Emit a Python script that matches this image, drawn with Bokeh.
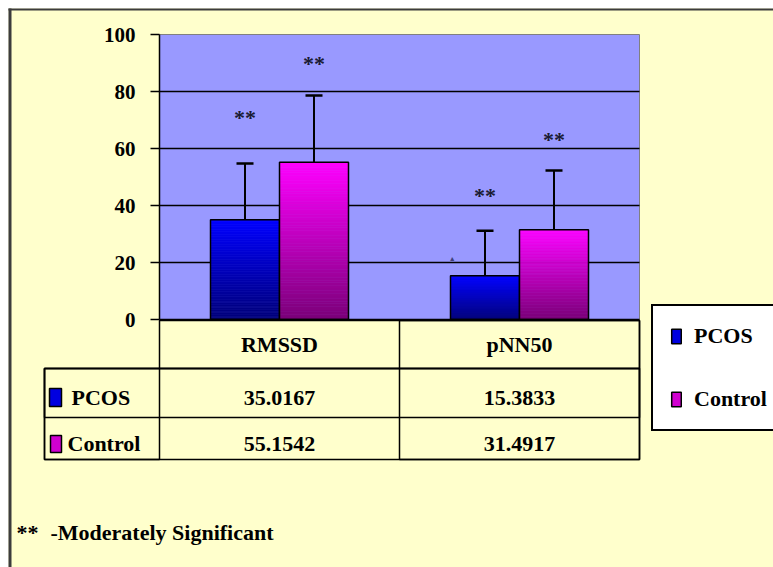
from bokeh.plotting import figure
from bokeh.models import (Range1d, FixedTicker, ColumnDataSource,
                          Label, BoxAnnotation, Legend, LegendItem)
from bokeh.core.properties import value
from bokeh.embed import file_html
from bokeh.resources import INLINE

# ---------------- data ----------------
categories = ["RMSSD", "pNN50"]
series = ["PCOS", "Control"]
pcos_mean = [35.0167, 15.3833]
control_mean = [55.1542, 31.4917]
pcos_sd = [19.7, 15.8]
control_sd = [23.4, 20.8]
pcos_star_y = [71.0, 43.5]
control_star_y = [90.0, 63.0]
star_text = "**"
y_ticks = [0, 20, 40, 60, 80, 100]
footnote_mark = "**"
footnote_text = "-Moderately Significant"

# ---------------- layout / style ----------------
W, H = 773, 567
PL, PR, PT, PB = 159, 639, 34, 319          # bar-plot area in canvas pixels
FONT = "Liberation Serif"
YELLOW = "#FFFFCC"
PLOT_BG = "#9999FF"
PCOS_COLS = ("#000078", "#0000FF")          # bottom, top
CTRL_COLS = ("#7A0078", "#FF00FF")
BW = 0.2875
OFF = {"PCOS": -BW / 2, "Control": BW / 2}

n = len(categories)
xp = [i + 0.5 for i in range(n)]            # category centres
cat_px = (PR - PL) / n
unit_px = (PB - PT) / (y_ticks[-1] - y_ticks[0])
CAP = 8.5 / cat_px                          # half width of error-bar caps

p = figure(width=W, height=H,
           x_range=Range1d(-PL / cat_px, n + (W - PR) / cat_px),
           y_range=Range1d(-(H - PB) / unit_px, y_ticks[-1] + PT / unit_px),
           output_backend="svg", toolbar_location=None, min_border=0)
p.background_fill_color = "white"
p.border_fill_color = "white"
p.outline_line_color = None
p.xgrid.visible = False
p.ygrid.visible = False


def sx(px):
    return px


def sy(py):
    return H - py


def box(l, r, t, b, fill=None, line="black", lw=1.5, level="annotation"):
    p.add_layout(BoxAnnotation(left=sx(l), right=sx(r), top=sy(t), bottom=sy(b),
                               left_units="screen", right_units="screen",
                               top_units="screen", bottom_units="screen",
                               fill_color=fill if fill else "white", fill_alpha=1 if fill else 0,
                               line_color=line if line else "black", line_alpha=1 if line else 0,
                               line_width=lw, level=level))


def lab(text, px, py, align="center", baseline="middle", size="22px", x_data=False):
    p.add_layout(Label(x=px if x_data else sx(px), y=sy(py),
                       x_units="data" if x_data else "screen", y_units="screen", text=text,
                       text_font=FONT, text_font_style="bold",
                       text_font_size=size, text_color="black",
                       text_align=align, text_baseline=baseline))


# chart background (yellow, inside the page margin)
box(8, W + 20, 8, H + 20, fill=YELLOW, line=None, level="underlay")

# plot area and grid lines
p.quad(left=[0], right=[n], bottom=[y_ticks[0]], top=[y_ticks[-1]],
       fill_color=PLOT_BG, line_color="#808080", line_width=1)
p.segment(x0=[0] * (len(y_ticks) - 2), x1=[n] * (len(y_ticks) - 2),
          y0=y_ticks[1:-1], y1=y_ticks[1:-1], line_color="black", line_width=1.5)

# axes pinned at the plot area's edges
p.yaxis.fixed_location = 0
p.yaxis.bounds = (y_ticks[0], y_ticks[-1])
p.yaxis.ticker = FixedTicker(ticks=y_ticks)
p.yaxis.axis_line_color = "black"
p.yaxis.axis_line_width = 1.5
p.yaxis.major_tick_out = 9
p.yaxis.major_tick_in = 0
p.yaxis.major_tick_line_width = 1.5
p.yaxis.minor_tick_out = 0
p.yaxis.minor_tick_in = 0
p.yaxis.major_label_standoff = 15
p.yaxis.major_label_text_font = FONT
p.yaxis.major_label_text_font_style = "bold"
p.yaxis.major_label_text_font_size = "21px"
p.yaxis.major_label_text_color = "black"

p.xaxis.fixed_location = 0
p.xaxis.bounds = (0, n)
p.xaxis.ticker = FixedTicker(ticks=xp)
p.xaxis.major_label_overrides = {x: c for x, c in zip(xp, categories)}
p.xaxis.axis_line_color = "black"
p.xaxis.axis_line_width = 1.5
p.xaxis.major_tick_out = 0
p.xaxis.major_tick_in = 0
p.xaxis.minor_tick_out = 0
p.xaxis.minor_tick_in = 0
p.xaxis.major_label_standoff = 12
p.xaxis.major_label_text_font = FONT
p.xaxis.major_label_text_font_style = "bold"
p.xaxis.major_label_text_font_size = "22px"
p.xaxis.major_label_text_color = "black"


def mix(c0, c1, t):
    a = [int(c0[i:i + 2], 16) for i in (1, 3, 5)]
    b = [int(c1[i:i + 2], 16) for i in (1, 3, 5)]
    return "#%02x%02x%02x" % tuple(round(a[k] + (b[k] - a[k]) * t) for k in range(3))


N = 60
for name, means, sds, stars, cols in [("PCOS", pcos_mean, pcos_sd, pcos_star_y, PCOS_COLS),
                                      ("Control", control_mean, control_sd, control_star_y, CTRL_COLS)]:
    bx = [x + OFF[name] for x in xp]
    xs, bots, tops, cs = [], [], [], []
    for x, v in zip(bx, means):
        for k in range(N):
            xs.append(x)
            bots.append(v * k / N)
            tops.append(v * (k + 1) / N)
            cs.append(mix(cols[0], cols[1], (k + 0.5) / N))
    src = ColumnDataSource(dict(x=xs, bottom=bots, top=tops, color=cs))
    p.vbar(x="x", width=BW, bottom="bottom", top="top", source=src,
           fill_color="color", line_color="color", line_width=0.6)
    upper = [m + s for m, s in zip(means, sds)]
    bsrc = ColumnDataSource(dict(x=bx, val=means, upper=upper,
                                 cl=[x - CAP for x in bx], cr=[x + CAP for x in bx],
                                 sy=stars, t=[star_text] * n))
    p.vbar(x="x", width=BW, top="val", bottom=0, source=bsrc,
           fill_color=None, line_color="black", line_width=1.5)
    # error bars (upper only) with caps
    p.segment(x0="x", y0="val", x1="x", y1="upper", source=bsrc, line_color="black", line_width=2)
    p.segment(x0="cl", y0="upper", x1="cr", y1="upper", source=bsrc, line_color="black", line_width=2.5)
    p.text(x="x", y="sy", text="t", source=bsrc,
           text_font=value(FONT), text_font_style="bold", text_font_size=value("22px"),
           text_align="center", text_baseline="middle", text_color="#1a1a33")

# small stray mark above the pNN50 PCOS bar
p.text(x=[xp[1] - 0.28], y=[21.5], text=["\u25b2"],
       text_font_size=value("7px"), text_align="center", text_baseline="middle",
       text_color="#40407a")

# legend (its glyph renderers hold one undrawable point)
nan = float("nan")
r_leg_p = p.vbar(x=[xp[0]], top=[nan], width=0.1, fill_color="#0000E0", line_color="black", line_width=1.5)
r_leg_c = p.vbar(x=[xp[0]], top=[nan], width=0.1, fill_color="#D000D0", line_color="black", line_width=1.5)
legend = Legend(items=[LegendItem(label=series[0], renderers=[r_leg_p]),
                       LegendItem(label=series[1], renderers=[r_leg_c])],
                location=(sx(651), sy(431)), orientation="vertical",
                glyph_width=12, glyph_height=18, label_standoff=12, spacing=37,
                padding=17, margin=0, label_height=26,
                border_line_color="black", border_line_width=2, border_line_alpha=1,
                background_fill_color="white", background_fill_alpha=1,
                label_text_font=FONT, label_text_font_style="bold",
                label_text_font_size="22px", label_text_color="black")
p.add_layout(legend)

# outer chart border (top and left; the rest lies outside the window)
box(8, 11, 8, H + 20, fill="#3c3c3c", line=None)
box(8, W + 20, 8, 10, fill="#3c3c3c", line=None)

# data table grid
box(PL, PR, 320, 368)
box(44, PR, 368, 459)
box(44, PR, 368, 417)
box(44, PL, 368, 459)
box((PL + PR) / 2, PR, 320, 459)

# row markers
box(49, 61, 388, 406, fill="#0000E0", lw=1.5)
box(50, 61, 435, 452, fill="#D000D0", lw=1.5)

# row labels and values
lab(series[0], 71, 397, align="left")
lab(series[1], 67, 443, align="left")
for x, v in zip(xp, pcos_mean):
    lab("%.4f" % v, x, 397, x_data=True)
for x, v in zip(xp, control_mean):
    lab("%.4f" % v, x, 443, x_data=True)

# footnote
lab(footnote_mark, 16, 532, align="left", baseline="alphabetic")
lab(footnote_text, 50, 532, align="left", baseline="alphabetic")

open("out.html", "w").write(file_html(p, INLINE))
